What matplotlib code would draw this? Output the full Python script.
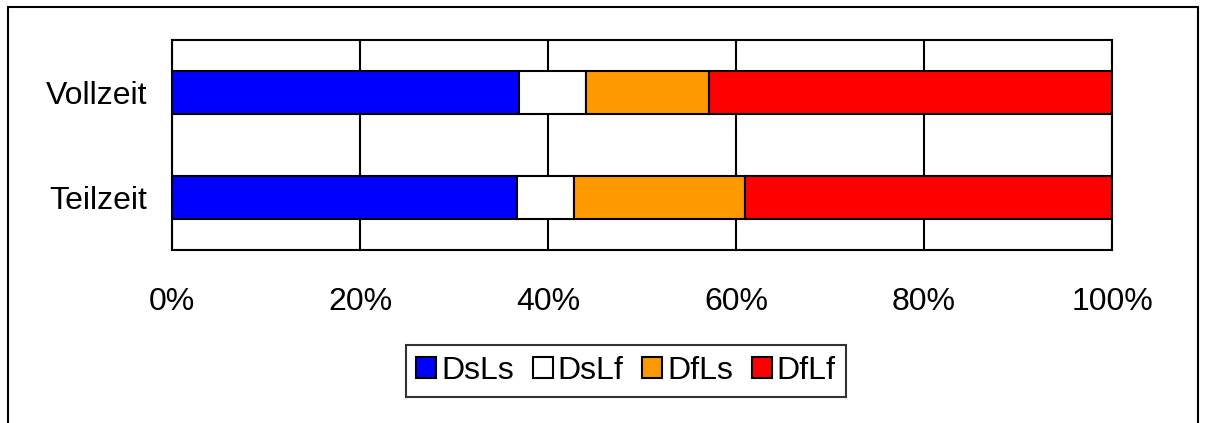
import matplotlib
matplotlib.use("Agg")
import matplotlib.pyplot as plt
from matplotlib.patches import Rectangle
import numpy as np

categories = ["Vollzeit", "Teilzeit"]
series_names = ["DsLs", "DsLf", "DfLs", "DfLf"]
DsLs = [36.9, 36.7]
DsLf = [7.1, 6.1]
DfLs = [13.1, 18.2]
DfLf = [42.9, 39.0]
colors = ["#0000FF", "#FFFFFF", "#FF9900", "#FF0000"]
xticks = [0, 20, 40, 60, 80, 100]
xticklabels = ["0%", "20%", "40%", "60%", "80%", "100%"]

plt.rcParams['font.family'] = ['Liberation Sans', 'DejaVu Sans']

W, H = 1206, 423
FS = 23
fig = plt.figure(figsize=(W / 100, H / 100), dpi=100)
ax = fig.add_axes([172 / W, 1 - 250 / H, 940 / W, 210 / H])

# outer frame (bottom edge runs off the image)
fig.patches.append(Rectangle((8 / W, -0.05), (1198 - 8) / W, 1.05 - 7 / H,
                             transform=fig.transFigure, fill=False,
                             edgecolor="black", linewidth=1.5))

series = [DsLs, DsLf, DfLs, DfLf]
y = np.arange(len(categories))
left = np.zeros(len(categories))
for name, vals, c in zip(series_names, series, colors):
    ax.barh(y, vals, left=left, height=0.41, color=c, edgecolor="black",
            linewidth=1.5, label=name, zorder=3)
    left += np.array(vals)

ax.set_xlim(0, 100)
ax.set_ylim(1.5, -0.5)
ax.set_xticks(xticks)
ax.set_xticklabels(xticklabels, fontsize=FS)
ax.set_yticks(y)
ax.set_yticklabels(categories, fontsize=FS)
ax.tick_params(axis="both", length=0)
ax.tick_params(axis="x", pad=27)
ax.tick_params(axis="y", pad=18)
ax.grid(axis="x", color="black", linewidth=1.5, zorder=0)
for s in ax.spines.values():
    s.set_linewidth(1.5)
    s.set_color("black")

leg = ax.legend(loc="center", bbox_to_anchor=(626 / W, 1 - 371 / H),
                bbox_transform=fig.transFigure, ncol=4, fontsize=FS,
                frameon=True, fancybox=False, handlelength=0.62,
                handleheight=0.62, handletextpad=0.15, columnspacing=0.6,
                borderpad=0.33, borderaxespad=0)
leg.get_frame().set_edgecolor("black")
leg.get_frame().set_linewidth(1.5)

fig.savefig("out.png", dpi=100)
